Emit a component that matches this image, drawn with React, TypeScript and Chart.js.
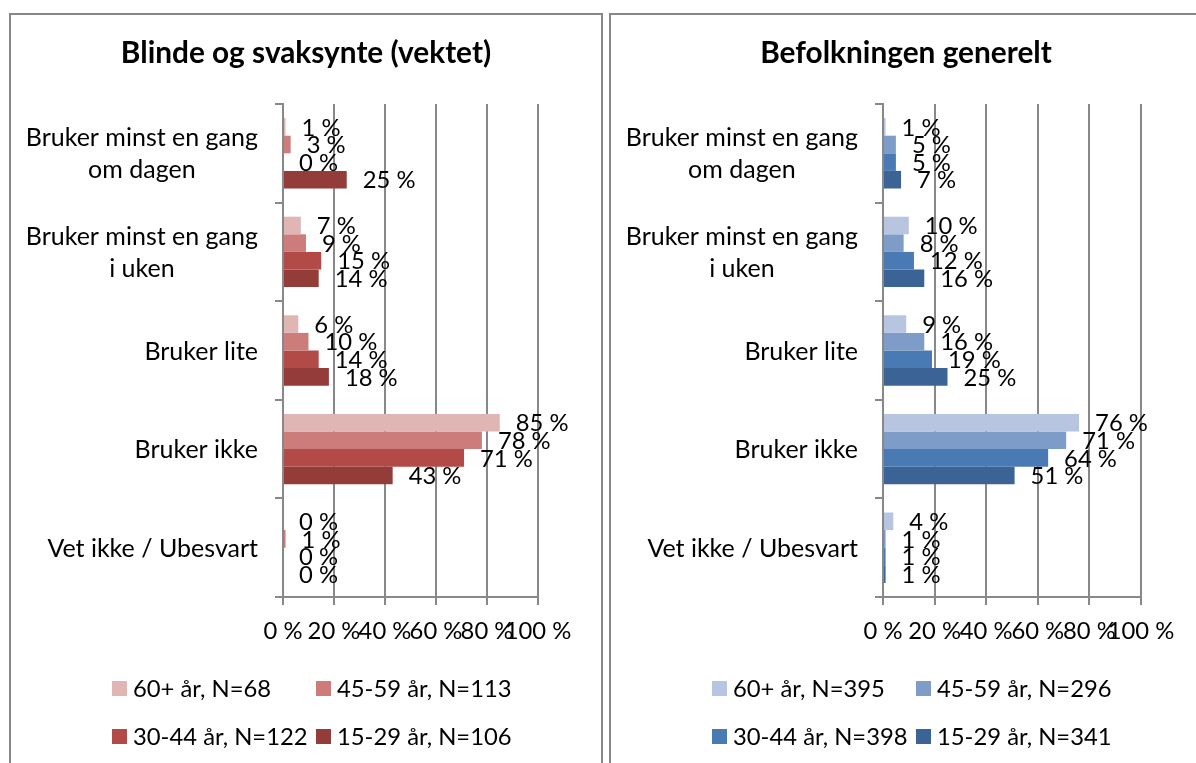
import React, { useEffect, useRef } from 'react';
import { Chart, registerables } from 'chart.js';

Chart.register(...registerables);

// ---------- data ----------
const categories: string[][] = [
  ['Bruker minst en gang', 'om dagen'],
  ['Bruker minst en gang', 'i uken'],
  ['Bruker lite'],
  ['Bruker ikke'],
  ['Vet ikke / Ubesvart'],
];
const xTickValues = [0, 20, 40, 60, 80, 100];
const tickSuffix = ' %';

const leftTitle = 'Blinde og svaksynte (vektet)';
const leftSeriesNames = ['60+ år, N=68', '45-59 år, N=113', '30-44 år, N=122', '15-29 år, N=106'];
const left60 = [1, 7, 6, 85, 0];
const left45 = [3, 9, 10, 78, 1];
const left30 = [0, 15, 14, 71, 0];
const left15 = [25, 14, 18, 43, 0];
const leftColors = ['#E0B6B5', '#CC7C7B', '#B24B48', '#943C3A'];

const rightTitle = 'Befolkningen generelt';
const rightSeriesNames = ['60+ år, N=395', '45-59 år, N=296', '30-44 år, N=398', '15-29 år, N=341'];
const right60 = [1, 10, 9, 76, 4];
const right45 = [5, 8, 16, 71, 1];
const right30 = [5, 12, 19, 64, 1];
const right15 = [7, 16, 25, 51, 1];
const rightColors = ['#B7C5E0', '#7E9CC8', '#4A7AB3', '#3C6395'];

// ---------- styles ----------
const FONT = 'Lato';
const FS = 25; // category labels
const NFS = 23.8; // numbers, ticks, legend
const TITLE_FS = 29.8;
const GRID = '#888888';
const CW = 590;
const CH = 748;

type PanelProps = {
  title: string;
  names: string[];
  series: number[][];
  colors: string[];
  left: number;
  rightPad: number;
};

function Panel({ title, names, series, colors, left, rightPad }: PanelProps) {
  const ref = useRef<HTMLCanvasElement | null>(null);

  useEffect(() => {
    if (!ref.current) return;
    const overlay = {
      id: 'overlay',
      afterDraw(chart: any) {
        const ctx = chart.ctx;
        ctx.save();
        // title
        ctx.font = `bold ${TITLE_FS}px ${FONT}`;
        ctx.fillStyle = '#000';
        ctx.textAlign = 'center';
        ctx.textBaseline = 'middle';
        ctx.fillText(title, chart.width / 2, 38);
        // data labels
        ctx.font = `${NFS}px ${FONT}`;
        ctx.textAlign = 'left';
        chart.data.datasets.forEach((ds: any, i: number) => {
          const meta = chart.getDatasetMeta(i);
          meta.data.forEach((bar: any, j: number) => {
            ctx.fillText(ds.data[j] + tickSuffix, bar.x + 16, bar.y + 1);
          });
        });
        // category labels
        ctx.font = `${FS}px ${FONT}`;
        const yScale = chart.scales.y;
        const rightEdge = yScale.right - 25;
        const lh = 32;
        categories.forEach((lines, i) => {
          const cy = yScale.getPixelForTick(i);
          const widths = lines.map((l) => ctx.measureText(l).width);
          const bw = Math.max(...widths);
          const cx = rightEdge - bw / 2;
          ctx.textAlign = 'center';
          lines.forEach((l, k) => {
            const y = cy + (k - (lines.length - 1) / 2) * lh;
            ctx.fillText(l, cx, y + 1);
          });
        });
        ctx.restore();
      },
    };
    const chart = new Chart(ref.current, {
      type: 'bar',
      data: {
        labels: categories.map((c) => c.join(' ')),
        datasets: series.map((d, i) => ({
          label: names[i],
          data: d,
          backgroundColor: colors[i],
          borderWidth: 0,
          categoryPercentage: 0.714,
          barPercentage: 1,
        })),
      },
      options: {
        indexAxis: 'y',
        animation: false,
        responsive: false,
        maintainAspectRatio: false,
        layout: { padding: { left: 0, top: 89, right: rightPad, bottom: 106 } },
        plugins: {
          legend: { display: false },
          tooltip: { enabled: false },
          title: { display: false },
        },
        scales: {
          x: {
            type: 'linear',
            position: 'bottom',
            min: xTickValues[0],
            max: xTickValues[xTickValues.length - 1],
            afterBuildTicks: (s: any) => {
              s.ticks = xTickValues.map((v) => ({ value: v }));
            },
            ticks: {
              autoSkip: false,
              maxRotation: 0,
              minRotation: 0,
              padding: 12,
              color: '#000',
              font: { family: FONT, size: NFS },
              callback: (v: any) => v + tickSuffix,
            },
            grid: { color: GRID, lineWidth: 2, tickLength: 8, drawTicks: true, drawOnChartArea: true },
            border: { display: true, color: GRID, width: 2 },
            afterFit: (s: any) => {
              s.height = 60;
            },
          },
          y: {
            type: 'category',
            position: 'left',
            offset: true,
            ticks: { display: false },
            grid: { offset: true, drawOnChartArea: false, drawTicks: true, tickLength: 8, color: GRID, lineWidth: 2 },
            border: { display: true, color: GRID, width: 2 },
            afterFit: (s: any) => {
              s.width = 272;
            },
          },
        },
      } as any,
      plugins: [overlay],
    });
    return () => chart.destroy();
  }, []);

  const legendX = [101, 305];
  const legendY = [673, 721];

  return (
    <div
      style={{
        position: 'absolute',
        left,
        top: 13,
        width: 594,
        height: 800,
        border: `2px solid ${GRID}`,
        boxSizing: 'border-box',
        background: '#fff',
      }}
    >
      <canvas
        ref={ref}
        width={CW}
        height={CH}
        style={{ position: 'absolute', left: 0, top: 0, width: CW, height: CH }}
      />
      {names.map((n, i) => (
        <div
          key={n}
          style={{
            position: 'absolute',
            left: legendX[i % 2],
            top: legendY[Math.floor(i / 2)] - 16,
            height: 32,
            display: 'flex',
            alignItems: 'center',
            whiteSpace: 'nowrap',
            fontFamily: FONT,
            fontSize: NFS,
            color: '#000',
          }}
        >
          <span style={{ display: 'inline-block', width: 15, height: 15, background: colors[i], marginRight: 6 }} />
          <span>{n}</span>
        </div>
      ))}
    </div>
  );
}

export default function App() {
  return (
    <div
      style={{
        position: 'fixed',
        left: 0,
        top: 0,
        width: 1196,
        height: 763,
        overflow: 'hidden',
        background: '#fff',
      }}
    >
      <Panel
        title={leftTitle}
        names={leftSeriesNames}
        series={[left60, left45, left30, left15]}
        colors={leftColors}
        left={9}
        rightPad={63}
      />
      <Panel
        title={rightTitle}
        names={rightSeriesNames}
        series={[right60, right45, right30, right15]}
        colors={rightColors}
        left={609}
        rightPad={60}
      />
    </div>
  );
}
